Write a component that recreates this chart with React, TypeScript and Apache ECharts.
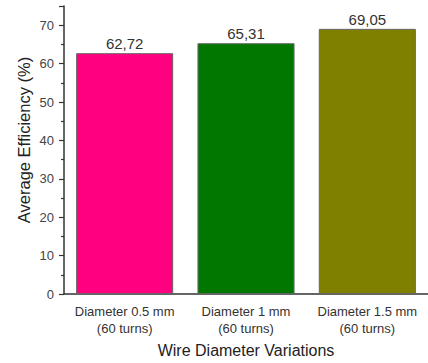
import React, { useEffect, useRef } from "react";
import * as echarts from "echarts";

const categories = ["Diameter 0.5 mm\n(60 turns)", "Diameter 1 mm\n(60 turns)", "Diameter 1.5 mm\n(60 turns)"];
const efficiency = [62.72, 65.31, 69.05];
const barColors = ["#ff0080", "#007800", "#808000"];
const yTicks = [0, 10, 20, 30, 40, 50, 60, 70];

const FONT = "'Liberation Sans', Arial, sans-serif";

export default function App() {
  const ref = useRef<HTMLDivElement>(null);

  useEffect(() => {
    document.body.style.margin = "0";
    if (!ref.current) return;
    const chart = echarts.init(ref.current, undefined, { renderer: "svg" });
    chart.setOption({
      animation: false,
      backgroundColor: "#ffffff",
      grid: { left: 64, top: 6, width: 368, height: 292 },
      graphic: [
        {
          type: "text",
          x: 24,
          y: 140,
          rotation: Math.PI / 2,
          style: {
            text: "Average Efficiency (%)",
            fill: "#222",
            font: `16.5px ${FONT}`,
            align: "center",
            verticalAlign: "middle",
          },
        },
      ],
      xAxis: [
        {
          type: "category",
          data: categories,
          axisLine: { lineStyle: { color: "#333", width: 1.5 } },
          axisTick: { alignWithLabel: true, length: 5, lineStyle: { color: "#333", width: 1.2 } },
          axisLabel: { interval: 0, color: "#333", fontSize: 13, lineHeight: 17, margin: 9, fontFamily: FONT },
          name: "Wire Diameter Variations",
          nameLocation: "middle",
          nameGap: 46,
          nameTextStyle: { color: "#222", fontSize: 16, fontFamily: FONT },
        },
        {
          type: "category",
          data: categories,
          position: "bottom",
          axisLine: { show: false },
          axisTick: { length: 3, lineStyle: { color: "#333", width: 1.2 } },
          axisLabel: { show: false },
        },
      ],
      yAxis: {
        type: "value",
        min: 0,
        max: 75,
        interval: 10,
        splitLine: { show: false },
        axisLine: { show: true, lineStyle: { color: "#333", width: 1.5 } },
        axisTick: { show: true, length: 5, lineStyle: { color: "#333", width: 1.2 } },
        minorTick: { show: true, splitNumber: 2, length: 3, lineStyle: { color: "#333", width: 1.2 } },
        axisLabel: {
          color: "#444",
          fontSize: 13,
          margin: 10,
          fontFamily: FONT,
          formatter: (v: number) => (yTicks.includes(v) ? String(v) : ""),
        },
      },
      series: [
        {
          type: "bar",
          barWidth: "80%",
          data: efficiency.map((v, i) => ({
            value: v,
            itemStyle: { color: barColors[i], borderColor: "#666", borderWidth: 1 },
          })),
          label: {
            show: true,
            position: "top",
            distance: 2,
            color: "#333",
            fontSize: 15,
            fontFamily: FONT,
            formatter: (p: any) => p.value.toFixed(2).replace(".", ","),
          },
        },
      ],
    });
    return () => chart.dispose();
  }, []);

  return <div ref={ref} style={{ width: 428, height: 363 }} />;
}
